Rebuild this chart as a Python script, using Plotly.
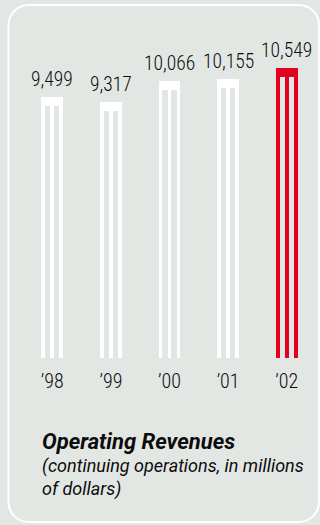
import plotly.graph_objects as go

# Operating revenues, continuing operations, millions of dollars
years = ["\u201998", "\u201999", "\u201900", "\u201901", "\u201902"]
revenues = [9499, 9317, 10066, 10155, 10549]
value_labels = ["9,499", "9,317", "10,066", "10,155", "10,549"]

W, H = 320, 525
ML, MR, MT, MB = 23, 4, 40, 167
PLOT_W, PLOT_H = W - ML - MR, H - MT - MB
Y_MAX = 11555

BG = "#e3e7e4"
WHITE = "#ffffff"
RED = "#e2001f"
INK = "#0c0c0c"
COND = "Roboto Condensed, Roboto, sans-serif"
TEXT = "Roboto, sans-serif"

colors = [WHITE] * 4 + [RED]
xs = list(range(len(years)))

CAP = 330          # height of the solid cap, in data units
COL_W = 0.375      # full column width in category units
LINE_W = 0.065     # width of each of the three strokes

fig = go.Figure()

# three vertical strokes under each column
for off in (-COL_W / 2 + LINE_W / 2, 0, COL_W / 2 - LINE_W / 2):
    fig.add_trace(go.Bar(
        x=xs, y=[v - CAP for v in revenues], base=0,
        width=LINE_W, offset=off - LINE_W / 2,
        marker=dict(color=colors, line=dict(width=0)),
        hoverinfo="skip", showlegend=False,
    ))

# solid cap on top of each column
fig.add_trace(go.Bar(
    x=xs, y=[CAP] * len(xs), base=[v - CAP for v in revenues],
    width=COL_W, offset=-COL_W / 2,
    marker=dict(color=colors, line=dict(width=0)),
    hoverinfo="skip", showlegend=False,
))

# value labels above columns
for x, v, t in zip(xs, revenues, value_labels):
    fig.add_annotation(x=x, y=v, text=t, showarrow=False, xanchor="center",
                       yanchor="bottom", yshift=4,
                       font=dict(family=COND, size=19.5, color=INK, weight=300))


def px(x):
    return (x - ML) / PLOT_W


def py(y):
    return (MT + PLOT_H - y) / PLOT_H


# rounded white frame
x0, x1, y0, y1, r = 8.5, 319, 5, 522, 20
k = 0.45 * r
pts = [
    ("M", [(x0 + r, y0)]),
    ("L", [(x1 - r, y0)]),
    ("C", [(x1 - k, y0), (x1, y0 + k), (x1, y0 + r)]),
    ("L", [(x1, y1 - r)]),
    ("C", [(x1, y1 - k), (x1 - k, y1), (x1 - r, y1)]),
    ("L", [(x0 + r, y1)]),
    ("C", [(x0 + k, y1), (x0, y1 - k), (x0, y1 - r)]),
    ("L", [(x0, y0 + r)]),
    ("C", [(x0, y0 + k), (x0 + k, y0), (x0 + r, y0)]),
]
path = " ".join(cmd + " " + " ".join(f"{px(a):.5f},{py(b):.5f}" for a, b in p)
                for cmd, p in pts) + " Z"
fig.add_shape(type="path", path=path, xref="paper", yref="paper",
              line=dict(color=WHITE, width=2), fillcolor="rgba(0,0,0,0)",
              layer="below")

# caption
fig.add_annotation(xref="paper", yref="paper", x=px(40), y=py(427),
                   xanchor="left", yanchor="top", align="left", showarrow=False,
                   text="<b><i>Operating Revenues</i></b>",
                   font=dict(family=TEXT, size=22, color=INK))
fig.add_annotation(xref="paper", yref="paper", x=px(40), y=py(453),
                   xanchor="left", yanchor="top", align="left", showarrow=False,
                   text="<i>(continuing operations, in millions<br>of dollars)</i>",
                   font=dict(family=TEXT, size=18, color=INK))

fig.update_layout(
    width=W, height=H,
    margin=dict(l=ML, r=MR, t=MT, b=MB),
    paper_bgcolor=BG, plot_bgcolor=BG,
    barmode="overlay", bargap=0,
    xaxis=dict(range=[-0.5, 4.5], tickvals=xs, ticktext=years,
               showgrid=False, zeroline=False, showline=False, ticks="",
               ticklabelstandoff=9,
               tickfont=dict(family=COND, size=20, color=INK, weight=300)),
    yaxis=dict(range=[0, Y_MAX], visible=False, showgrid=False),
)

fig.write_html("out.html")
